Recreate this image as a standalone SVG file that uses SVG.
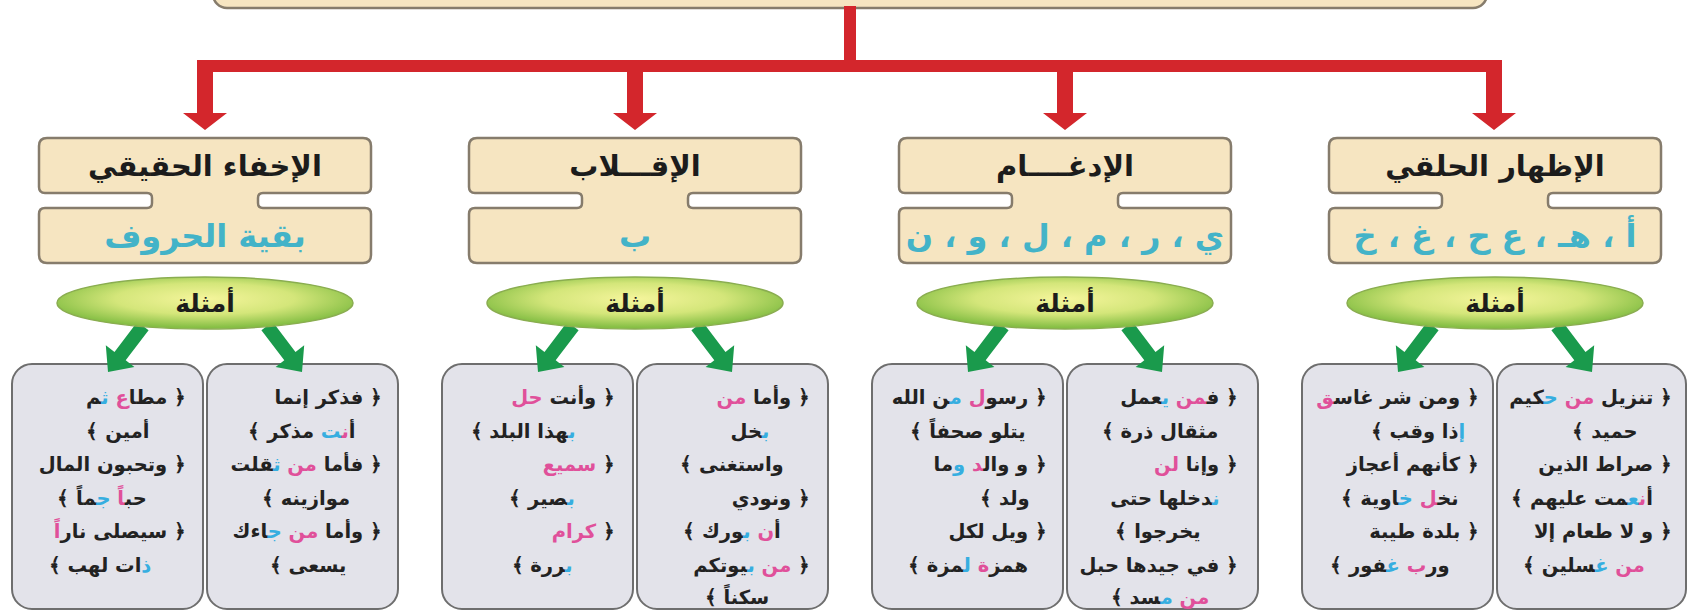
<svg xmlns="http://www.w3.org/2000/svg" xmlns:xlink="http://www.w3.org/1999/xlink" width="1688" height="613" viewBox="0 0 1688 613">
<style>
.tb{fill:#f6e5c1;stroke:#867c6c;stroke-width:2.5}
.ttl{font-family:"DejaVu Sans",sans-serif;font-weight:bold;font-size:29px;fill:#1c1c1c;direction:rtl;text-anchor:middle}
.let{font-family:"DejaVu Sans",sans-serif;font-weight:bold;font-size:32px;fill:#43b3c8;direction:rtl;text-anchor:middle}
.ell{fill:url(#eg);stroke:#8aad50;stroke-width:1.5}
.etx{font-family:"DejaVu Sans",sans-serif;font-weight:bold;font-size:25px;fill:#1c1c1c;direction:rtl;text-anchor:middle}
.ex{fill:#e3e3ea;stroke:#6e6e6e;stroke-width:2}
.t{font-family:"DejaVu Sans",sans-serif;font-weight:bold;font-size:19.5px;fill:#222;direction:rtl}
.r{text-anchor:start}
.m{text-anchor:middle}
.p{fill:#e0509a}
.c{fill:#36aee0}
.red{fill:#d3262c}
.grn{fill:#1a9a4c}
</style>
<defs>
<radialGradient id="eg" cx="50%" cy="42%" r="55%">
<stop offset="0" stop-color="#f5f59c"/>
<stop offset="0.55" stop-color="#d4e67a"/>
<stop offset="1" stop-color="#86bf45"/>
</radialGradient>
<path id="tshape" d="M -158,138 H 158 Q 166,138 166,146 V 187 Q 166,193 160,193 H 58 Q 53,193 53,198 V 203 Q 53,208 58,208 H 160 Q 166,208 166,214 V 255 Q 166,263 158,263 H -158 Q -166,263 -166,255 V 214 Q -166,208 -160,208 H -58 Q -53,208 -53,203 V 198 Q -53,193 -58,193 H -160 Q -166,193 -166,187 V 146 Q -166,138 -158,138 Z"/>
<path id="gaL" d="M -56.4,330.2 L -79.3,360.3 L -70.6,367 L -97,372 L -99.2,345.2 L -90.5,351.9 L -67.6,321.8 Z"/>
<path id="gaR" d="M 56.4,330.2 L 79.3,360.3 L 70.6,367 L 97,372 L 99.2,345.2 L 90.5,351.9 L 67.6,321.8 Z"/>
<path id="rdrop" d="M -8,66 H 8 V 113 H 22 L 0,130 L -22,113 H -8 Z"/>
</defs>

<g id="root">
<rect class="tb" x="213" y="-42" width="1274" height="50" rx="14"/>
</g>

<!-- title nodes -->
<g id="n-ikhfa">
<use xlink:href="#tshape" class="tb" transform="translate(205,0)"/>
<text class="ttl" x="205" y="176">الإخفاء الحقيقي</text>
<text class="let" x="205" y="247">بقية الحروف</text>
</g>
<g id="n-iqlab">
<use xlink:href="#tshape" class="tb" transform="translate(635,0)"/>
<text class="ttl" x="635" y="176">الإقـــلاب</text>
<text class="let" x="635" y="247">ب</text>
</g>
<g id="n-idgham">
<use xlink:href="#tshape" class="tb" transform="translate(1065,0)"/>
<text class="ttl" x="1065" y="176">الإدغــــام</text>
<text class="let" x="1065" y="247">ي ، ر ، م ، ل ، و ، ن</text>
</g>
<g id="n-izhar">
<use xlink:href="#tshape" class="tb" transform="translate(1495,0)"/>
<text class="ttl" x="1495" y="176">الإظهار الحلقي</text>
<text class="let" x="1495" y="247">أ ، هـ ، ع  ح ، غ ، خ</text>
</g>

<!-- example boxes -->
<g id="ex-ikhfa-right">
<rect class="ex" x="207" y="364" width="191" height="245" rx="20"/>
<text class="t r" x="382" y="404">﴿ فذكر إنما</text>
<text class="t m" x="302" y="438">أ<tspan class="p">ن</tspan><tspan class="c">ت</tspan> مذكر ﴾</text>
<text class="t r" x="382" y="471">﴿ فأما <tspan class="p">من</tspan> <tspan class="c">ث</tspan>قلت</text>
<text class="t m" x="306" y="505">موازينه ﴾</text>
<text class="t r" x="382" y="538">﴿ وأما <tspan class="p">من</tspan> <tspan class="c">ج</tspan>اءك</text>
<text class="t m" x="308" y="572">يسعى ﴾</text>
</g>
<g id="ex-ikhfa-left">
<rect class="ex" x="12" y="364" width="191" height="245" rx="20"/>
<text class="t r" x="186" y="404">﴿ مطا<tspan class="p">ع</tspan> <tspan class="c">ث</tspan>م</text>
<text class="t m" x="118" y="438">أمين ﴾</text>
<text class="t r" x="186" y="471">﴿ وتحبون المال</text>
<text class="t m" x="102" y="505">حب<tspan class="p">اً</tspan> <tspan class="c">ج</tspan>ماً ﴾</text>
<text class="t r" x="186" y="538">﴿ سيصلى نار<tspan class="p">اً</tspan></text>
<text class="t m" x="100" y="572"><tspan class="c">ذ</tspan>ات لهب ﴾</text>
</g>

<g id="ex-iqlab-right">
<rect class="ex" x="637" y="364" width="191" height="245" rx="20"/>
<text class="t r" x="810" y="404">﴿ وأما <tspan class="p">من</tspan></text>
<text class="t m" x="750" y="438"><tspan class="c">ب</tspan>خل</text>
<text class="t m" x="732" y="471">واستغنى ﴾</text>
<text class="t r" x="810" y="505">﴿ ونودي</text>
<text class="t m" x="732" y="538">أ<tspan class="p">ن</tspan> <tspan class="c">ب</tspan>ورك ﴾</text>
<text class="t r" x="810" y="572">﴿ <tspan class="p">من</tspan> <tspan class="c">ب</tspan>يوتكم</text>
<text class="t m" x="737" y="604">سكناً ﴾</text>
</g>
<g id="ex-iqlab-left">
<rect class="ex" x="442" y="364" width="191" height="245" rx="20"/>
<text class="t r" x="615" y="404">﴿ وأنت <tspan class="p">حل</tspan></text>
<text class="t m" x="523" y="438"><tspan class="c">ب</tspan>هذا البلد ﴾</text>
<text class="t r" x="615" y="471">﴿ <tspan class="p">سميع</tspan></text>
<text class="t m" x="542" y="505"><tspan class="c">ب</tspan>صير ﴾</text>
<text class="t r" x="615" y="538">﴿ <tspan class="p">كرام</tspan></text>
<text class="t m" x="542" y="572"><tspan class="c">ب</tspan>ررة ﴾</text>
</g>

<g id="ex-idgham-right">
<rect class="ex" x="1067" y="364" width="191" height="245" rx="20"/>
<text class="t r" x="1238" y="404">﴿ ف<tspan class="p">من</tspan> <tspan class="c">ي</tspan>عمل</text>
<text class="t m" x="1160" y="438">مثقال ذرة ﴾</text>
<text class="t r" x="1238" y="471">﴿ وإنا <tspan class="p">لن</tspan></text>
<text class="t m" x="1165" y="505"><tspan class="c">ن</tspan>دخلها حتى</text>
<text class="t m" x="1158" y="538">يخرجوا ﴾</text>
<text class="t r" x="1238" y="572">﴿ في جيدها حبل</text>
<text class="t m" x="1160" y="604"><tspan class="p">من</tspan> <tspan class="c">م</tspan>سد ﴾</text>
</g>
<g id="ex-idgham-left">
<rect class="ex" x="872" y="364" width="191" height="245" rx="20"/>
<text class="t r" x="1047" y="404">﴿ رسو<tspan class="p">ل</tspan> <tspan class="c">م</tspan>ن الله</text>
<text class="t m" x="968" y="438">يتلو صحفاً ﴾</text>
<text class="t r" x="1047" y="471">﴿ و وال<tspan class="p">د</tspan> <tspan class="c">و</tspan>ما</text>
<text class="t m" x="1005" y="505">ولد ﴾</text>
<text class="t r" x="1047" y="538">﴿ ويل لكل</text>
<text class="t m" x="968" y="572">همز<tspan class="p">ة</tspan> <tspan class="c">ل</tspan>مزة ﴾</text>
</g>

<g id="ex-izhar-right">
<rect class="ex" x="1497" y="364" width="189" height="245" rx="20"/>
<text class="t r" x="1672" y="404">﴿ تنزيل <tspan class="p">من</tspan> <tspan class="c">ح</tspan>كيم</text>
<text class="t m" x="1605" y="438">حميد ﴾</text>
<text class="t r" x="1672" y="471">﴿ صراط الذين</text>
<text class="t m" x="1582" y="505">أ<tspan class="p">ن</tspan><tspan class="c">ع</tspan>مت عليهم ﴾</text>
<text class="t r" x="1672" y="538">﴿ و لا طعام إلا</text>
<text class="t m" x="1584" y="572"><tspan class="p">من</tspan> <tspan class="c">غ</tspan>سلين ﴾</text>
</g>
<g id="ex-izhar-left">
<rect class="ex" x="1302" y="364" width="191" height="245" rx="20"/>
<text class="t r" x="1479" y="404">﴿ ومن شر غاس<tspan class="p">ق</tspan></text>
<text class="t m" x="1418" y="438"><tspan class="c">إ</tspan>ذا وقب ﴾</text>
<text class="t r" x="1479" y="471">﴿ كأنهم أعجاز</text>
<text class="t m" x="1400" y="505">نخ<tspan class="p">ل</tspan> <tspan class="c">خ</tspan>اوية ﴾</text>
<text class="t r" x="1479" y="538">﴿ بلدة طيبة</text>
<text class="t m" x="1390" y="572">ور<tspan class="p">ب</tspan> <tspan class="c">غ</tspan>فور ﴾</text>
</g>

<!-- connectors -->
<g id="connectors">
<rect class="red" x="844" y="6" width="12" height="62"/>
<rect class="red" x="197" y="60" width="1305" height="12"/>
<use xlink:href="#rdrop" class="red" transform="translate(205,0)"/>
<use xlink:href="#rdrop" class="red" transform="translate(635,0)"/>
<use xlink:href="#rdrop" class="red" transform="translate(1065,0)"/>
<use xlink:href="#rdrop" class="red" transform="translate(1494,0)"/>
<use xlink:href="#gaL" class="grn" transform="translate(205,0)"/>
<use xlink:href="#gaR" class="grn" transform="translate(205,0)"/>
<use xlink:href="#gaL" class="grn" transform="translate(635,0)"/>
<use xlink:href="#gaR" class="grn" transform="translate(635,0)"/>
<use xlink:href="#gaL" class="grn" transform="translate(1065,0)"/>
<use xlink:href="#gaR" class="grn" transform="translate(1065,0)"/>
<use xlink:href="#gaL" class="grn" transform="translate(1495,0)"/>
<use xlink:href="#gaR" class="grn" transform="translate(1495,0)"/>
</g>

<!-- examples ellipses -->
<g id="amthila-ikhfa">
<ellipse class="ell" cx="205" cy="303" rx="148" ry="26"/>
<text class="etx" x="205" y="312">أمثلة</text>
</g>
<g id="amthila-iqlab">
<ellipse class="ell" cx="635" cy="303" rx="148" ry="26"/>
<text class="etx" x="635" y="312">أمثلة</text>
</g>
<g id="amthila-idgham">
<ellipse class="ell" cx="1065" cy="303" rx="148" ry="26"/>
<text class="etx" x="1065" y="312">أمثلة</text>
</g>
<g id="amthila-izhar">
<ellipse class="ell" cx="1495" cy="303" rx="148" ry="26"/>
<text class="etx" x="1495" y="312">أمثلة</text>
</g>
</svg>
